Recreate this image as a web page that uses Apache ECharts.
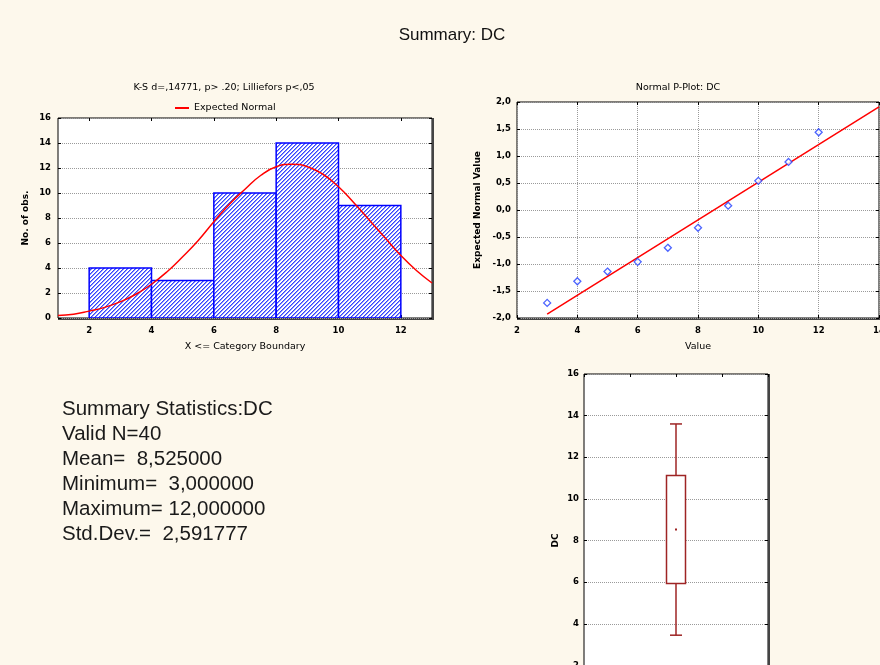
<!DOCTYPE html>
<html><head><meta charset="utf-8">
<script src="https://cdn.jsdelivr.net/npm/echarts@6/dist/echarts.min.js"></script>
<style>html,body{margin:0;padding:0;background:#fdf8ec;}#c{width:880px;height:665px;}</style>
</head><body><div id="c"></div>
<script>
// ---- data ----
const binEdges = [2, 4, 6, 8, 10, 12];
const binCounts = [4, 3, 10, 14, 9];
const histXTicks = [2, 4, 6, 8, 10, 12];
const normalX = [1, 1.5, 2, 2.5, 3, 3.5, 4, 4.5, 5, 5.5, 6, 6.5, 7, 7.5, 8, 8.5, 9, 9.5, 10, 10.5, 11, 11.5, 12, 12.5, 13];
const normalY = [0.2, 0.3, 0.55, 0.85, 1.3, 1.9, 2.7, 3.7, 4.9, 6.2, 7.7, 9.1, 10.3, 11.4, 12.1, 12.3, 12.1, 11.5, 10.5, 9.2, 7.8, 6.4, 5.0, 3.8, 2.8];
const pplotValue = [3, 4, 5, 6, 7, 8, 9, 10, 11, 12];
const pplotExpected = [-1.72, -1.32, -1.14, -0.96, -0.70, -0.33, 0.08, 0.54, 0.89, 1.44];
const pplotLineX = [3, 14];
const pplotLineY = [-1.93, 1.91];
// box: lower whisker, box bottom, mean, box top, upper whisker
const boxStats = [3.45, 5.93, 8.53, 11.12, 13.6];
const boxX = 2;
const summaryLines = [
  'Summary Statistics:DC',
  'Valid N=40',
  'Mean=  8,525000',
  'Minimum=  3,000000',
  'Maximum= 12,000000',
  'Std.Dev.=  2,591777'
];

const SMALL = 'DejaVu Sans';
const tickFont = {fontFamily: SMALL, fontSize: 8.5, fontWeight: 'bold', color: '#000'};
const nameFont = {fontFamily: SMALL, fontSize: 9.5, color: '#000'};
const split = {show: true, lineStyle: {color: '#9a9a9a', type: 'dotted', width: 1}};

function hatch() {
  const c = document.createElement('canvas'); c.width = 4; c.height = 4;
  const g = c.getContext('2d');
  g.fillStyle = '#ffffff'; g.fillRect(0, 0, 4, 4);
  for (let x = 0; x < 4; x++) {
    g.fillStyle = '#3344ff'; g.fillRect(x, (3 - x) % 4, 1, 1);
    g.fillStyle = '#8c96ff'; g.fillRect(x, (4 - x) % 4, 1, 1);
  }
  return c;
}
const pat = {image: hatch(), repeat: 'repeat'};

const grids = [
  {left: 58, top: 118, width: 374, height: 200},
  {left: 517, top: 102, width: 362, height: 216},
  {left: 584, top: 374, width: 184, height: 333}
];

const noLine = {show: false, onZero: false};
function frameAxesX(gi, min, max, interval, custom) {
  const t = {show: true, inside: true, length: 3, lineStyle: {color: '#000'}};
  if (custom) t.customValues = custom;
  return {gridIndex: gi, type: 'value', position: 'top', min, max, interval,
    axisLine: noLine, axisTick: t, axisLabel: {show: false}, splitLine: {show: false}};
}
function frameAxesY(gi, min, max, interval) {
  return {gridIndex: gi, type: 'value', position: 'right', min, max, interval,
    axisLine: noLine, axisTick: {show: true, inside: true, length: 3, lineStyle: {color: '#000'}},
    axisLabel: {show: false}, splitLine: {show: false}};
}

const commaFmt = v => v.toFixed(1).replace('.', ',');

const option = {
  animation: false,
  backgroundColor: '#fdf8ec',
  grid: grids.map(g => Object.assign({show: true, backgroundColor: '#ffffff', borderColor: '#000', borderWidth: 1,
    outerBoundsMode: 'none', containLabel: false}, g)),
  legend: {
    data: ['Expected Normal'], left: 170, top: 98, icon: 'rect', itemWidth: 14, itemHeight: 2,
    textStyle: {fontFamily: SMALL, fontSize: 9.5, color: '#000'}
  },
  xAxis: [
    {gridIndex: 0, type: 'value', min: 1, max: 13,
      axisLine: noLine,
      axisTick: {show: true, inside: true, length: 3, customValues: histXTicks, lineStyle: {color: '#000'}},
      axisLabel: Object.assign({customValues: histXTicks, margin: 8}, tickFont),
      splitLine: {show: false},
      name: 'X <= Category Boundary', nameLocation: 'middle', nameGap: 24, nameTextStyle: nameFont},
    {gridIndex: 1, type: 'value', min: 2, max: 14, interval: 2,
      axisLine: noLine,
      axisTick: {show: true, inside: true, length: 3, lineStyle: {color: '#000'}},
      axisLabel: Object.assign({margin: 8}, tickFont),
      splitLine: split,
      name: 'Value', nameLocation: 'middle', nameGap: 24, nameTextStyle: nameFont},
    {gridIndex: 2, type: 'value', min: 0, max: 4, interval: 1,
      axisLine: noLine,
      axisTick: {show: true, inside: true, length: 3, lineStyle: {color: '#000'}},
      axisLabel: {show: false}, splitLine: {show: false}},
    frameAxesX(0, 1, 13, null, histXTicks),
    frameAxesX(1, 2, 14, 2),
    frameAxesX(2, 0, 4, 1)
  ],
  yAxis: [
    {gridIndex: 0, type: 'value', min: 0, max: 16, interval: 2,
      axisLine: noLine, axisTick: {show: true, inside: true, length: 3, lineStyle: {color: '#000'}},
      axisLabel: Object.assign({margin: 7}, tickFont), splitLine: split,
      name: 'No. of obs.', nameLocation: 'middle', nameRotate: 90, nameGap: 28,
      nameTextStyle: Object.assign({}, nameFont, {fontWeight: 'bold', fontSize: 9})},
    {gridIndex: 1, type: 'value', min: -2, max: 2, interval: 0.5,
      axisLine: noLine, axisTick: {show: true, inside: true, length: 3, lineStyle: {color: '#000'}},
      axisLabel: Object.assign({margin: 6, formatter: commaFmt}, tickFont), splitLine: split,
      name: 'Expected Normal Value', nameLocation: 'middle', nameRotate: 90, nameGap: 35,
      nameTextStyle: Object.assign({}, nameFont, {fontWeight: 'bold', fontSize: 9})},
    {gridIndex: 2, type: 'value', min: 0, max: 16, interval: 2,
      axisLine: noLine, axisTick: {show: true, inside: true, length: 3, lineStyle: {color: '#000'}},
      axisLabel: Object.assign({margin: 5}, tickFont), splitLine: split,
      name: 'DC', nameLocation: 'middle', nameRotate: 90, nameGap: 24,
      nameTextStyle: Object.assign({}, nameFont, {fontWeight: 'bold', fontSize: 9})},
    frameAxesY(0, 0, 16, 2),
    frameAxesY(1, -2, 2, 0.5),
    frameAxesY(2, 0, 16, 2)
  ],
  series: [
    {type: 'custom', name: 'Histogram', xAxisIndex: 0, yAxisIndex: 0, clip: true,
      data: binCounts.map((c, i) => [binEdges[i], binEdges[i + 1], c]),
      encode: {x: [0, 1], y: 2},
      renderItem: (p, api) => {
        const a = api.coord([api.value(0), api.value(2)]);
        const b = api.coord([api.value(1), 0]);
        return {type: 'rect', shape: {x: a[0], y: a[1], width: b[0] - a[0], height: b[1] - a[1]},
          style: {fill: pat, stroke: '#0000ff', lineWidth: 1.5}};
      }},
    {type: 'line', name: 'Expected Normal', xAxisIndex: 0, yAxisIndex: 0, smooth: true, showSymbol: false,
      data: normalX.map((x, i) => [x, normalY[i]]), clip: true,
      lineStyle: {color: '#ff0000', width: 1.5}, itemStyle: {color: '#ff0000'}, z: 5},
    {type: 'line', name: 'fit', xAxisIndex: 1, yAxisIndex: 1, showSymbol: false, clip: true,
      data: pplotLineX.map((x, i) => [x, pplotLineY[i]]),
      lineStyle: {color: '#ff0000', width: 1.5}},
    {type: 'scatter', name: 'obs', xAxisIndex: 1, yAxisIndex: 1, symbol: 'diamond', symbolSize: 7,
      data: pplotValue.map((x, i) => [x, pplotExpected[i]]),
      itemStyle: {color: '#ffffff', borderColor: '#1f3dff', borderWidth: 1.3}, z: 6},
    {type: 'custom', name: 'box', xAxisIndex: 2, yAxisIndex: 2,
      data: [[boxX].concat(boxStats)],
      encode: {x: 0, y: [1, 2, 3, 4, 5]},
      renderItem: (p, api) => {
        const x = api.value(0);
        const lo = api.coord([x, api.value(1)]), q1 = api.coord([x, api.value(2)]),
          m = api.coord([x, api.value(3)]), q3 = api.coord([x, api.value(4)]), hi = api.coord([x, api.value(5)]);
        const bw = 19, cw = 12, col = '#9e2424';
        const st = {stroke: col, lineWidth: 1.5, fill: null};
        return {type: 'group', children: [
          {type: 'line', shape: {x1: lo[0], y1: lo[1], x2: q1[0], y2: q1[1]}, style: st},
          {type: 'line', shape: {x1: q3[0], y1: q3[1], x2: hi[0], y2: hi[1]}, style: st},
          {type: 'line', shape: {x1: lo[0] - cw / 2, y1: lo[1], x2: lo[0] + cw / 2, y2: lo[1]}, style: st},
          {type: 'line', shape: {x1: hi[0] - cw / 2, y1: hi[1], x2: hi[0] + cw / 2, y2: hi[1]}, style: st},
          {type: 'rect', shape: {x: q3[0] - bw / 2, y: q3[1], width: bw, height: q1[1] - q3[1]},
            style: {stroke: col, lineWidth: 1.5, fill: '#ffffff'}},
          {type: 'rect', shape: {x: m[0] - 1, y: m[1] - 1, width: 2, height: 2}, style: {fill: col}}
        ]};
      }}
  ],
  graphic: [
    {type: 'text', x: 452, y: 35, style: {text: 'Summary: DC', font: '17px "Liberation Sans", Arial', fill: '#111', textAlign: 'center', textVerticalAlign: 'middle'}},
    {type: 'text', x: 224, y: 88, style: {text: 'K-S d=,14771, p> .20; Lilliefors p<,05', font: '9.5px "DejaVu Sans"', fill: '#000', textAlign: 'center', textVerticalAlign: 'middle'}},
    {type: 'text', x: 678, y: 88, style: {text: 'Normal P-Plot: DC', font: '9.5px "DejaVu Sans"', fill: '#000', textAlign: 'center', textVerticalAlign: 'middle'}},
    {type: 'group', children: summaryLines.map((t, i) => ({type: 'text', x: 62, y: 409 + i * 25,
      style: {text: t, font: '20.5px "Liberation Sans", Arial', fill: '#1a1a1a', textAlign: 'left', textVerticalAlign: 'middle'}}))},
    // frame shadows on right/bottom edges
    {type: 'rect', shape: {x: 432, y: 118, width: 2, height: 202}, style: {fill: '#444'}},
    {type: 'rect', shape: {x: 58, y: 318, width: 376, height: 2}, style: {fill: '#444'}},
    {type: 'rect', shape: {x: 517, y: 318, width: 363, height: 2}, style: {fill: '#444'}},
    {type: 'rect', shape: {x: 768, y: 374, width: 2, height: 300}, style: {fill: '#444'}}
  ]
};
const chart = echarts.init(document.getElementById('c'), null, {renderer: 'canvas'});
chart.setOption(option);
</script></body></html>
